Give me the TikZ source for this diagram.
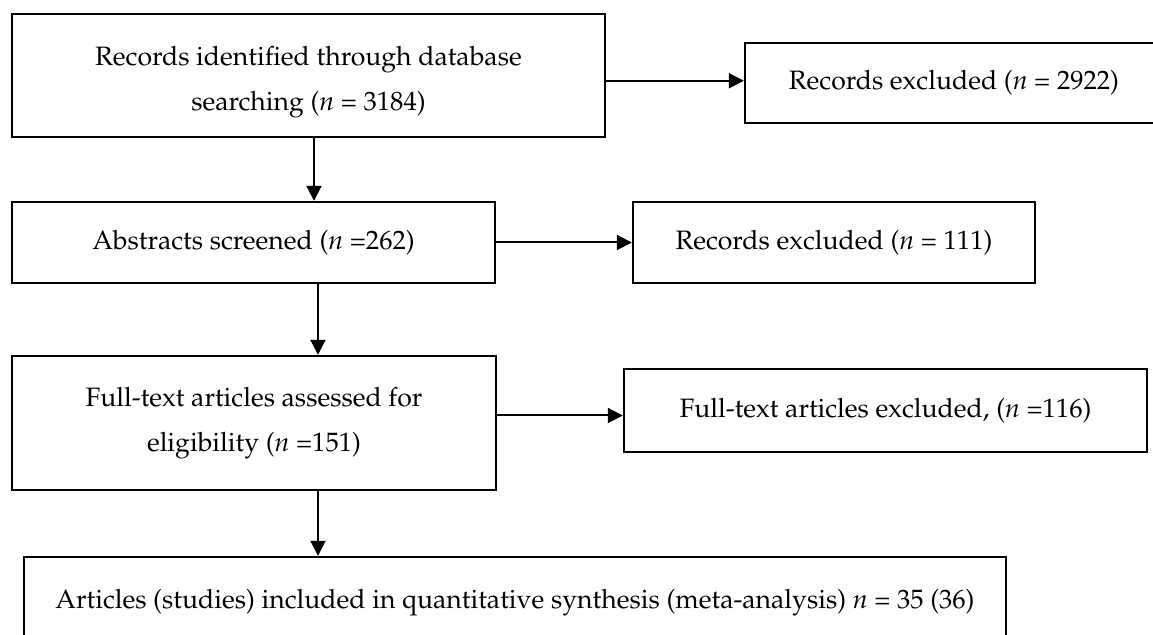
\documentclass[tikz,border=0pt]{standalone}
\usepackage[T1]{fontenc}
\usepackage{mathpazo}
\usepackage{tikz}
\usetikzlibrary{arrows.meta,calc}
\tikzset{
  box/.style={draw, line width=1.2pt, align=center, inner sep=0pt, font=\fontsize{13.3}{22.5}\selectfont},
  flow/.style={-{Triangle[length=7.5pt,width=7.5pt]}, line width=1pt}
}

\begin{document}
\begin{tikzpicture}[x=0.5pt,y=-0.5pt]
  \useasboundingbox (0,0) rectangle (1153,635);
  % left column
  \node[box, minimum width=296.5pt, minimum height=61.5pt] (rec) at (308.5,75.5)
    {\rule{0pt}{16pt}Records identified through database\\searching (\textit{n} = 3184)};
  \node[box, minimum width=241.5pt, minimum height=40.5pt] (abs) at (253.5,242.5)
    {Abstracts screened (\textit{n} =262)};
  \node[box, minimum width=242pt, minimum height=67pt] (ft) at (254,423)
    {Full-text articles assessed for\\eligibility (\textit{n} =151)};
  \node[box, minimum width=491pt, minimum height=46pt] (syn) at (515,603)
    {Articles (studies) included in quantitative synthesis (meta-analysis) \textit{n} = 35 (36)};
  % exclusions
  \node[box, minimum width=209pt, minimum height=40pt] (exc1) at (954,83)
    {Records excluded (\textit{n} = 2922)};
  \node[box, minimum width=201pt, minimum height=40.5pt] (exc2) at (834,242.5)
    {Records excluded (\textit{n} = 111)};
  \node[box, minimum width=261.5pt, minimum height=41.5pt] (exc3) at (885.5,410.5)
    {Full-text articles excluded, (\textit{n} =116)};

  \draw[flow] ([xshift=2.75pt]rec.south) -- ([xshift=2.75pt]rec.south |- abs.north);
  \draw[flow] ([xshift=32.25pt]abs.south) -- ([xshift=32.25pt]abs.south |- ft.north);
  \draw[flow] ([xshift=32pt]ft.south) -- ([xshift=32pt]ft.south |- syn.north);

  \coordinate (r1) at ($(rec.east)!.7!(rec.east |- exc1.west)$);
  \coordinate (r3) at ($(ft.east)!.6!(ft.east |- exc3.west)$);
  \draw[flow] (r1) -- (r1 -| exc1.west);
  \draw[flow] (abs.east) -- (exc2.west);
  \draw[flow] (r3) -- (r3 -| exc3.west);
\end{tikzpicture}
\end{document}
